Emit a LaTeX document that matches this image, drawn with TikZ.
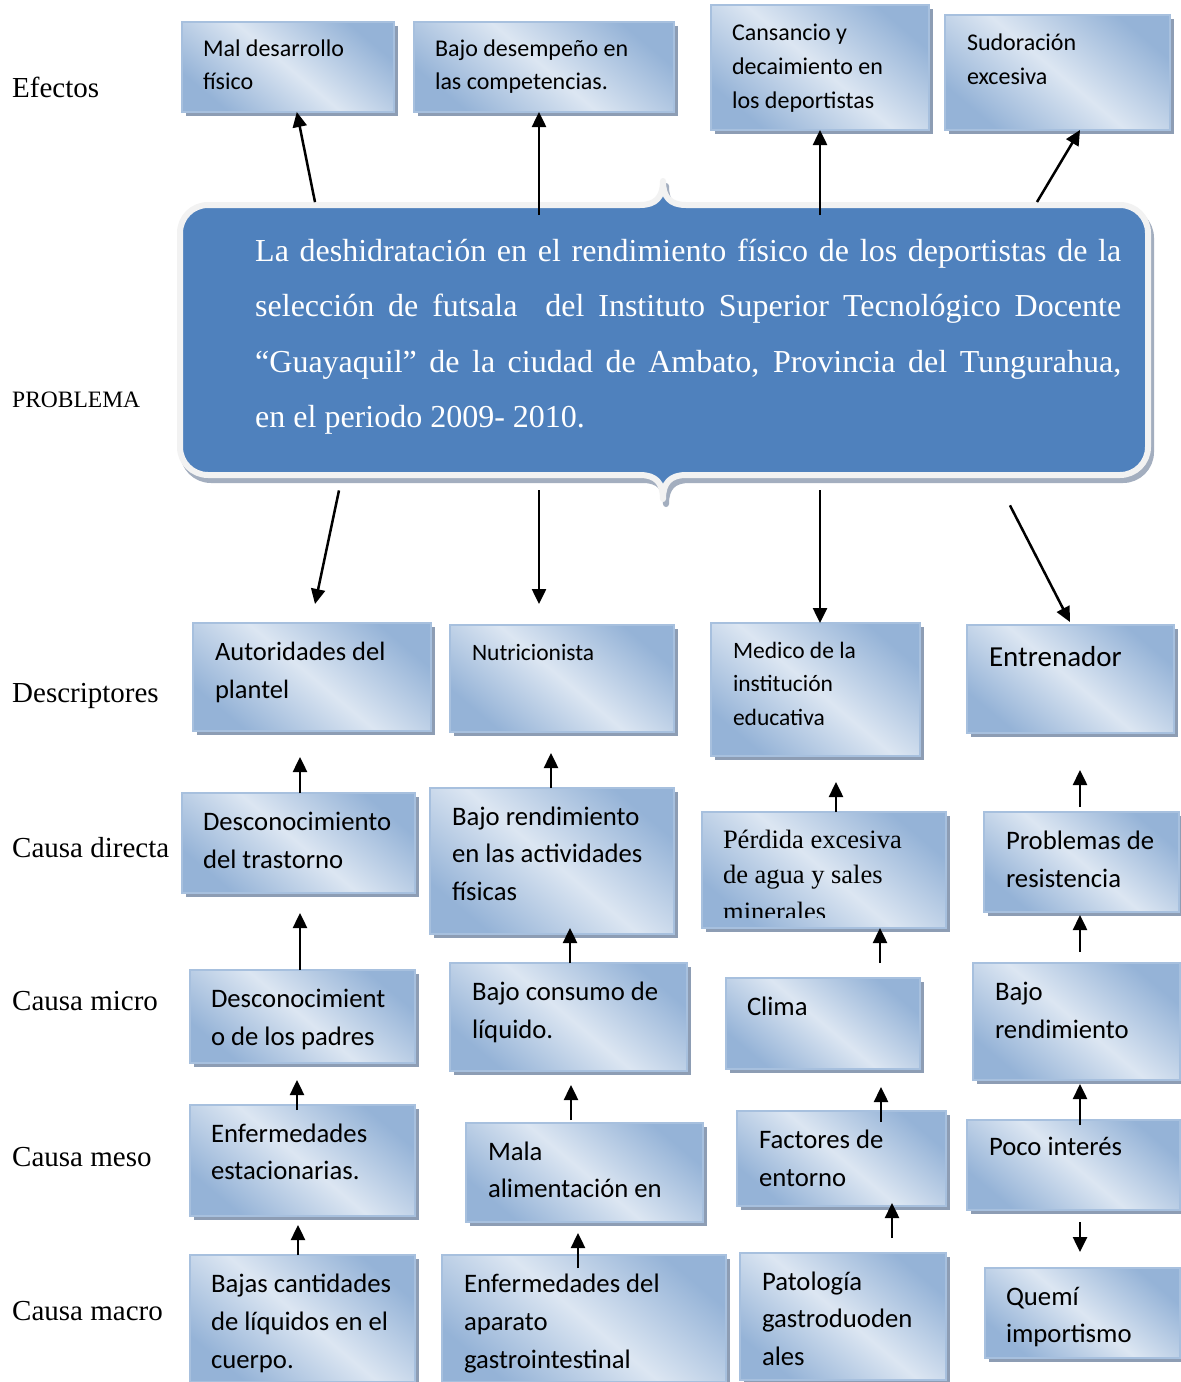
\documentclass[tikz,border=0pt]{standalone}
\usepackage{fontspec}
\setmainfont{Liberation Serif}
\newfontfamily\calib{Carlito}
\usetikzlibrary{arrows.meta,shadows}
\definecolor{bdark}{HTML}{95B3D7}
\definecolor{blight}{HTML}{DCE6F2}
\definecolor{bbord}{HTML}{A7C0DE}
\definecolor{bshad}{HTML}{8D9DB4}
\definecolor{pblue}{HTML}{4F81BD}
\definecolor{pbord}{HTML}{F2F2F2}
\definecolor{pshad}{HTML}{A3AEBF}
\newcommand\fs[2]{\calib\fontsize{#1}{#2}\selectfont}
\newcommand\fsr[2]{\rmfamily\fontsize{#1}{#2}\selectfont}
\newcommand\cb[9]{\node[cbx] (#1) at (#2,#3) {\hspace*{#6pt}\parbox[t][\dimexpr #5pt-#3pt\relax][t]{\dimexpr #4pt-#2pt-#6pt\relax}{#8\raggedright\rule{0pt}{#7pt}#9}};}
\newcommand\conn[5][]{\draw[arr,#1] (#3 -| #2,0) -- (#5 -| #4,0);}
\tikzset{
  cbx/.style={anchor=north west, inner sep=0pt, outer sep=0pt, draw=bbord, line width=2pt,
    top color=bdark, bottom color=bdark, middle color=blight, shading angle=-40,
    general shadow={fill=bshad, shadow xshift=4pt, shadow yshift=-4pt}},
  arr/.style={line width=2.5pt, -{Triangle[length=15pt,width=14pt]}},
  lbl/.style={inner sep=0pt, anchor=base west, font={\fsr{29}{34}}}
}
\begin{document}
\begin{tikzpicture}[x=1pt,y=-1pt]
\fill[white] (0,0) rectangle (1181,1382);
\useasboundingbox (0,0) rectangle (1181,1382);

% left labels
\node[lbl] (lef) at (12,97) {Efectos};
\node[lbl, font={\fsr{23.5}{28}}] (lpro) at (12,407) {PROBLEMA};
\node[lbl] (ldes) at (12,702) {Descriptores};
\node[lbl] (ldir) at (12,857) {Causa directa};
\node[lbl] (lmic) at (12,1010) {Causa micro};
\node[lbl] (lmes) at (12,1166) {Causa meso};
\node[lbl] (lmac) at (12,1320) {Causa macro};

% problem shape
\path[draw=pbord, line width=6pt, line join=round, fill=pblue,
  general shadow={fill=pshad, draw=pshad, line width=6pt, line join=round, shadow xshift=3pt, shadow yshift=-5pt}]
  (180,233) .. controls (180,217.5) and (192.5,205) .. (208,205) -- (640,205)
  .. controls (656,205) and (663,197) .. (663,181)
  .. controls (663,197) and (670,205) .. (686,205) -- (1120,205)
  .. controls (1135.5,205) and (1148,217.5) .. (1148,233) -- (1148,447)
  .. controls (1148,462.5) and (1135.5,475) .. (1120,475) -- (686,475)
  .. controls (670,475) and (663,483) .. (663,499)
  .. controls (663,483) and (656,475) .. (640,475) -- (208,475)
  .. controls (192.5,475) and (180,462.5) .. (180,447) -- cycle;
\node[anchor=north west, inner sep=0pt, text=white] (prob) at (183,208)
 {\hspace*{72pt}\parbox[t][264pt][t]{866pt}{\fsr{32}{55.5}\hyphenpenalty=10000\rule{0pt}{53pt}La deshidratación en el rendimiento físico de los deportistas de la\linebreak selección de futsala \ del Instituto Superior Tecnológico Docente\linebreak “Guayaquil” de la ciudad de Ambato, Provincia del Tungurahua,\linebreak en el periodo 2009- 2010.}\hspace*{24pt}};

% effects
\cb{e1}{182}{22}{394}{112}{21}{34}{\fs{24}{33}}{Mal desarrollo\\físico}
\cb{e2}{414}{22}{674}{112}{21}{34}{\fs{24}{33}}{Bajo desempeño en\\las competencias.}
\cb{e3}{711}{5}{929}{130}{21}{35}{\fs{24}{34}}{Cansancio y\\decaimiento en\\los deportistas}
\cb{e4}{945}{15}{1170}{130}{22}{35}{\fs{24}{34}}{Sudoración\\excesiva}
% descriptors
\cb{d1}{193}{623}{431}{731}{22}{37}{\fs{26.5}{38}}{Autoridades del\\plantel}
\cb{d2}{450}{625}{674}{732}{22}{35}{\fs{23.5}{34}}{Nutricionista}
\cb{d3}{711}{623}{920}{756}{22}{35}{\fs{23.5}{33.5}}{Medico de la\\institución\\educativa}
\cb{d4}{967}{625}{1174}{733}{22}{41}{\fs{29}{38}}{Entrenador}
% causa directa
\cb{c1}{182}{793}{415}{893}{21}{37}{\fs{26.7}{38}}{Desconocimiento\\del trastorno}
\cb{c2}{430}{788}{674}{934}{22}{37}{\fs{26.7}{37.5}}{Bajo rendimiento\\en las actividades\\físicas}
\cb{c3}{702}{812}{946}{928}{21}{36}{\fsr{26.5}{35}}{Pérdida excesiva\\de agua y sales}
\begin{scope}
  \clip (702,812) rectangle (946,917);
  \node[anchor=base west, inner sep=0pt, font={\fsr{26.5}{35}}] (c3x) at (723,920) {minerales};
\end{scope}
\cb{c4}{984}{812}{1179}{912}{22}{37}{\fs{26.7}{38}}{Problemas de\\resistencia}
% causa micro
\cb{m1}{190}{970}{415}{1063}{21}{37}{\fs{26.7}{38}}{Desconocimient\\o de los padres}
\cb{m2}{450}{963}{687}{1071}{22}{37}{\fs{26.7}{38}}{Bajo consumo de\\líquido.}
\cb{m3}{726}{978}{920}{1069}{21}{37}{\fs{26.7}{38}}{Clima}
\cb{m4}{973}{963}{1180}{1080}{22}{37}{\fs{26.7}{38}}{Bajo\\rendimiento}
% causa meso
\cb{me1}{190}{1105}{415}{1216}{21}{37}{\fs{26.7}{37}}{Enfermedades\\estacionarias.}
\cb{me2}{466}{1123}{703}{1222}{22}{37}{\fs{26.7}{37}}{Mala\\alimentación en}
\cb{me3}{737}{1111}{946}{1206}{22}{37}{\fs{26.7}{38}}{Factores de\\entorno}
\cb{me4}{967}{1120}{1180}{1210}{22}{35}{\fs{26.7}{38}}{Poco interés}
% causa macro
\cb{ma1}{190}{1255}{415}{1382}{21}{37}{\fs{26.7}{38}}{Bajas cantidades\\de líquidos en el\\cuerpo.}
\cb{ma2}{442}{1255}{726}{1382}{22}{37}{\fs{26.7}{38}}{Enfermedades del\\aparato\\gastrointestinal}
\cb{ma3}{740}{1253}{946}{1380}{22}{37}{\fs{26.7}{37.5}}{Patología\\gastroduoden\\ales}
\cb{ma4}{985}{1268}{1180}{1358}{21}{37}{\fs{26.7}{37}}{Quemí\\importismo}

% arrows problem -> effects
\conn[shorten <=6pt]{316.2}{prob.north}{296.8}{e1.south}
\conn[shorten <=-7pt]{539}{prob.north}{539}{e2.south}
\conn[shorten <=-7pt]{820}{prob.north}{820}{e3.south}
\conn[shorten <=7pt]{1033.4}{prob.north}{1080}{e4.south}
% arrows problem -> descriptors
\conn[shorten <=18.4pt, shorten >=19.4pt]{342.8}{prob.south}{311}{d1.north}
\conn[shorten <=18pt, shorten >=21pt]{539}{prob.south}{539}{d2.north}
\conn[shorten <=18pt]{820}{prob.south}{820}{d3.north}
\conn[shorten <=37pt, shorten >=3.4pt]{993}{prob.south}{1071.5}{d4.north}
% causa directa -> descriptors
\conn[shorten >=26pt]{300}{c1.north}{300}{d1.south}
\conn[shorten >=21pt]{551}{c2.north}{551}{d2.south}
\conn[shorten >=26pt]{836}{c3.north}{836}{d3.south}
\conn[shorten <=5pt, shorten >=37pt]{1080}{c4.north}{1080}{d4.south}
% micro -> directa
\conn[shorten >=20pt]{300}{m1.north}{300}{c1.south}
\conn[shorten >=-6pt]{570}{m2.north}{570}{c2.south}
\conn[shorten <=15pt]{880}{m3.north}{880}{c3.south}
\conn[shorten <=11pt, shorten >=3pt]{1080}{m4.north}{1080}{c4.south}
% meso -> micro
\conn[shorten <=-5pt, shorten >=17pt]{297}{me1.north}{297}{m1.south}
\conn[shorten <=3pt, shorten >=14pt]{571}{me2.north}{571}{m2.south}
\conn[shorten <=-11pt, shorten >=18pt]{881}{me3.north}{881}{m3.south}
\conn[shorten <=-5pt, shorten >=4pt]{1080}{me4.north}{1080}{m4.south}
% macro -> meso
\conn[shorten >=9pt]{298}{ma1.north}{298}{me1.south}
\conn[shorten <=-13pt, shorten >=11pt]{578}{ma2.north}{578}{me2.south}
\conn[shorten <=15pt, shorten >=-3pt]{892}{ma3.north}{892}{me3.south}
\conn[shorten <=12pt, shorten >=16pt]{1080}{me4.south}{1080}{ma4.north}
\end{tikzpicture}
\end{document}
